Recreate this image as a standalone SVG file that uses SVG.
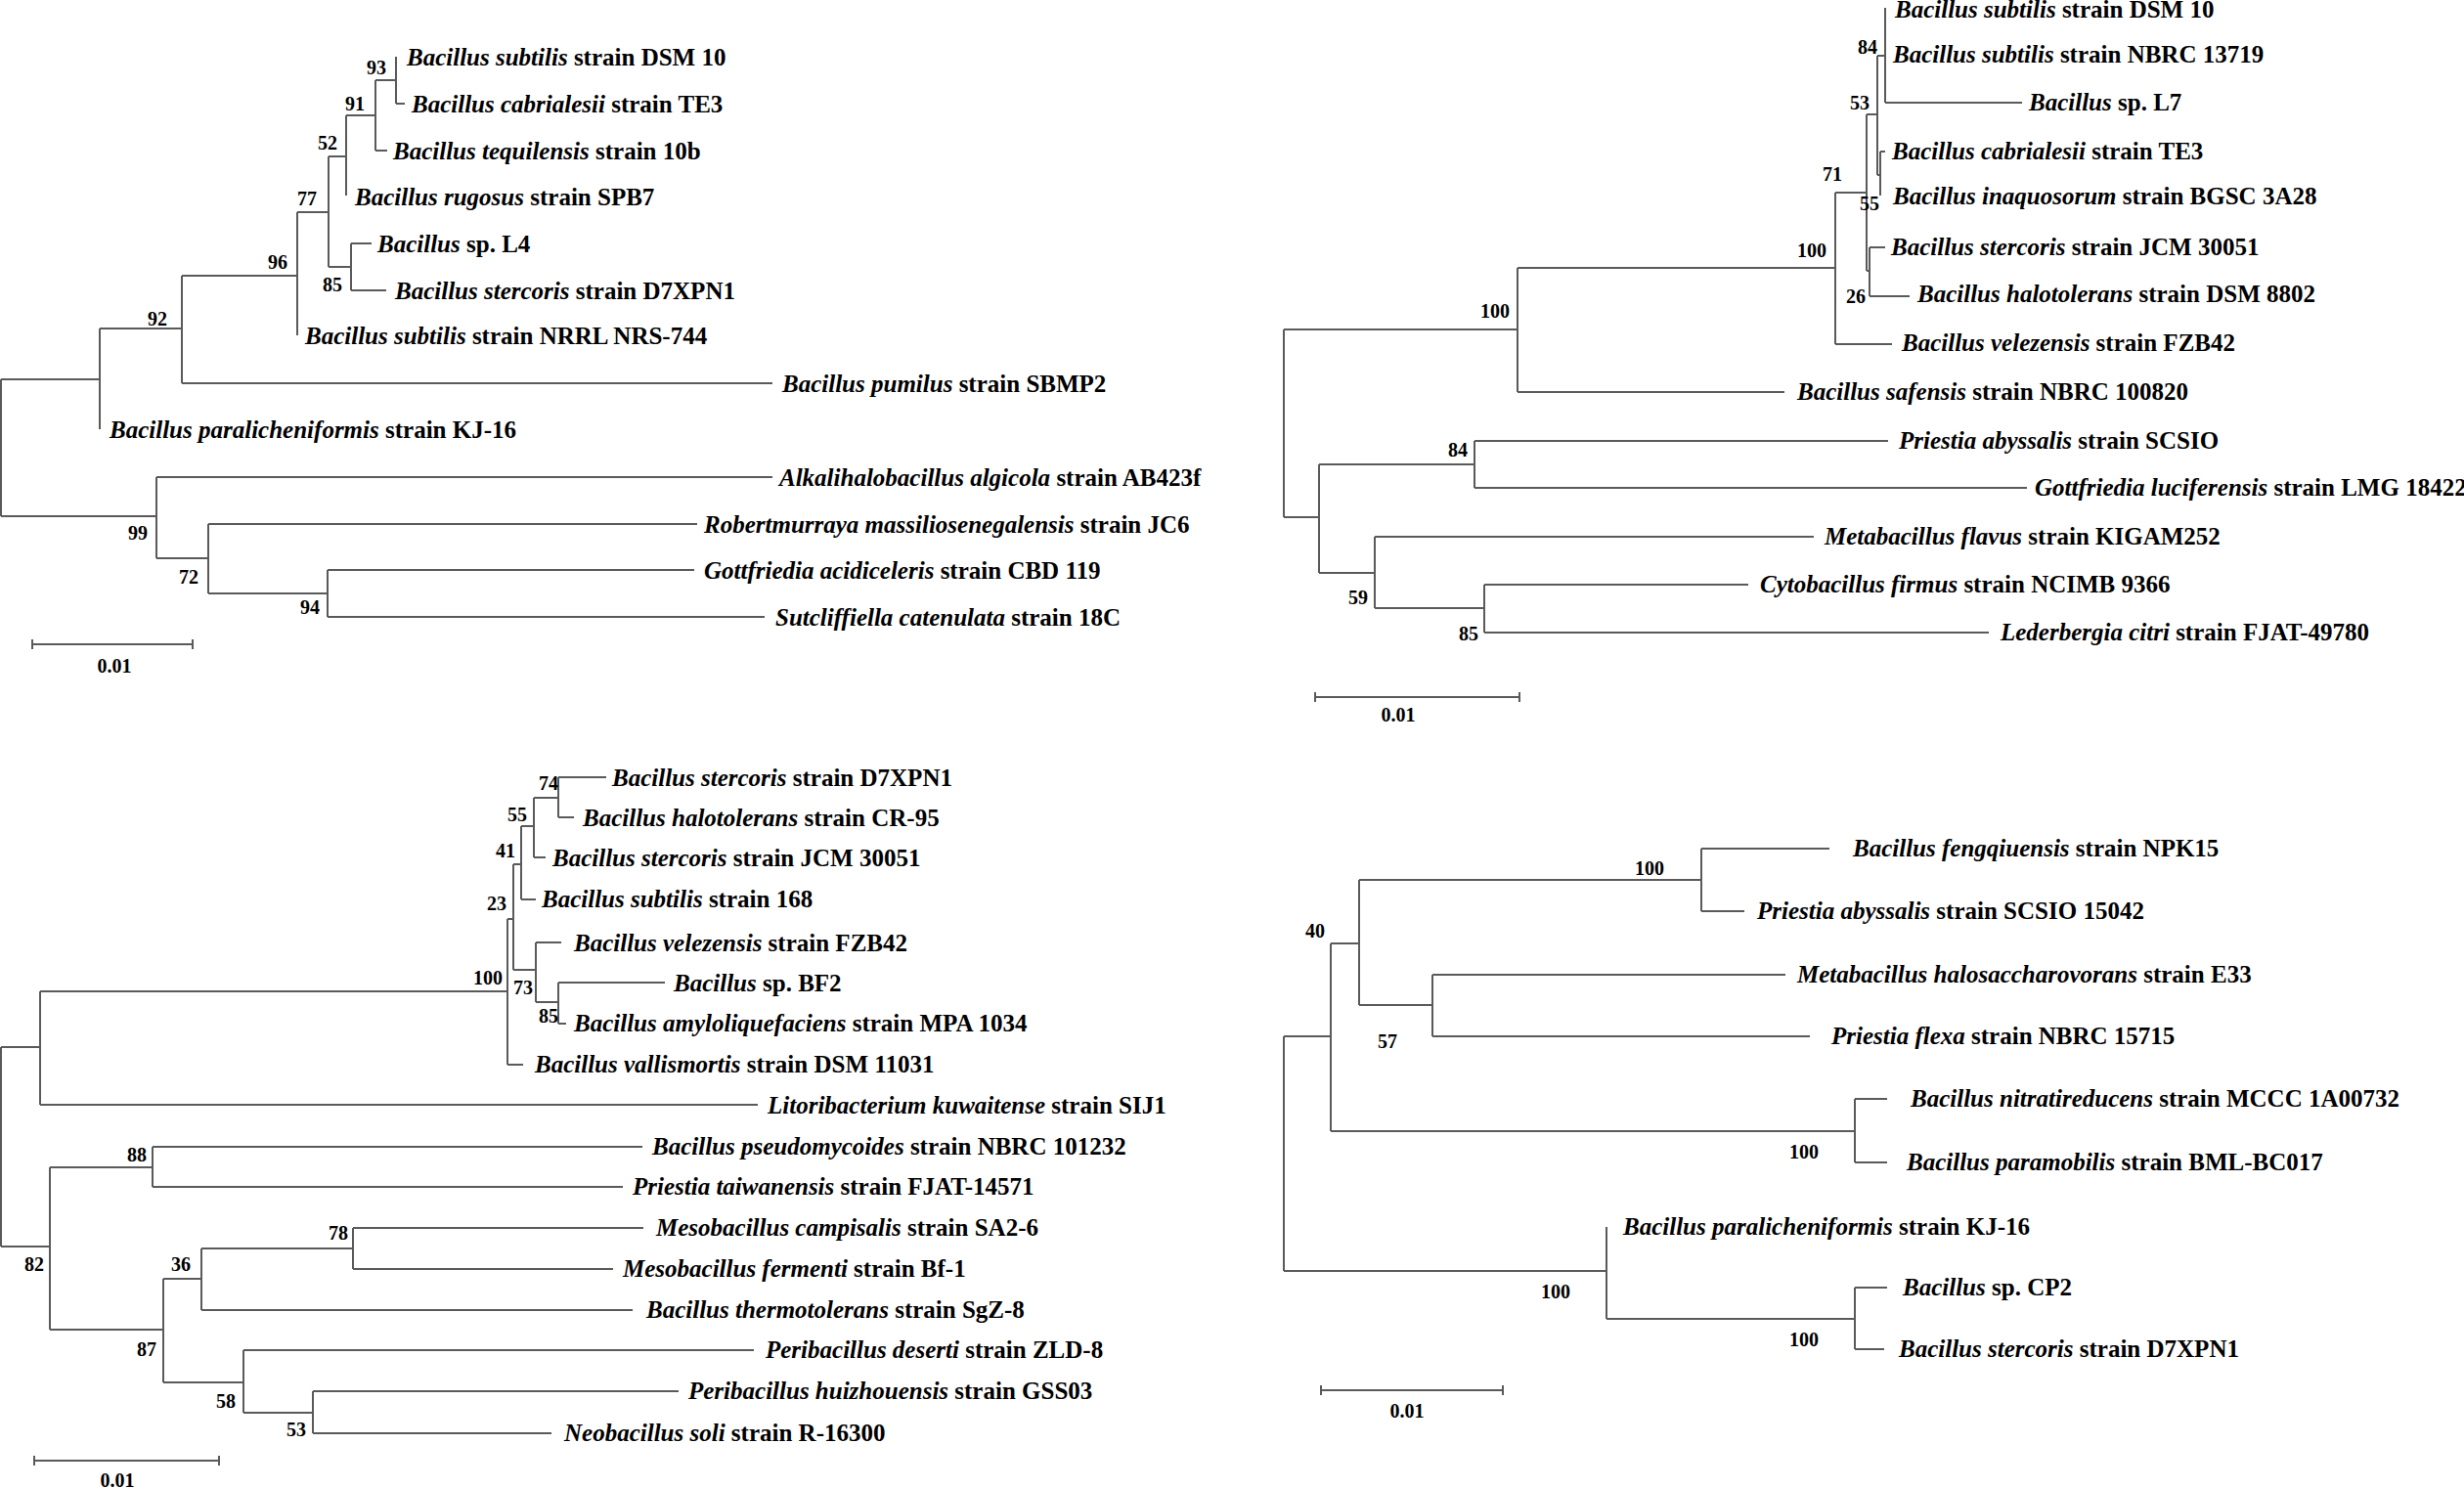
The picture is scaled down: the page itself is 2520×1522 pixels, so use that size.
<svg xmlns="http://www.w3.org/2000/svg" width="2520" height="1522" viewBox="0 0 2520 1522">
<style>
.br{fill:none;stroke:#5a5a5a;stroke-width:2}
.lb{font-family:"Liberation Serif","Times New Roman",serif;font-size:25px;font-weight:bold;fill:#000}
.i{font-style:italic}
.bs{font-family:"Liberation Serif","Times New Roman",serif;font-size:20px;font-weight:bold;fill:#000;text-anchor:end}
.sc{font-family:"Liberation Serif","Times New Roman",serif;font-size:20px;font-weight:bold;fill:#000;text-anchor:middle}
</style>
<rect width="2520" height="1522" fill="#fff"/>

<g id="tree-a">
<g id="tree-a-branches">
<path class="br" d="M1,388 V528 M1,388 H102 M102,336 V439 M102,336 H186 M186,282 V392 M186,392 H790 M186,282 H304 M304,217 V343 M304,217 H336 M336,160 V273 M336,273 H359 M359,249 V297 M359,249 H380 M359,297 H395 M336,160 H354 M354,118 V200 M354,118 H384 M384,82 V154 M384,154 H396 M384,82 H405 M405,58 V106 M405,106 H414 M1,528 H160 M160,488 V571 M160,488 H790 M160,571 H213 M213,536 V607 M213,536 H713 M213,607 H335 M335,583 V631 M335,583 H710 M335,631 H782"/>
<path class="br" d="M33,659 H197 M33,654 V664 M197,654 V664"/>
</g>
<g id="tree-a-leaves">
<text class="lb" x="416" y="67"><tspan class="i">Bacillus subtilis</tspan> strain DSM 10</text>
<text class="lb" x="421" y="115"><tspan class="i">Bacillus cabrialesii</tspan> strain TE3</text>
<text class="lb" x="402" y="163"><tspan class="i">Bacillus tequilensis</tspan> strain 10b</text>
<text class="lb" x="363" y="210"><tspan class="i">Bacillus rugosus</tspan> strain SPB7</text>
<text class="lb" x="386" y="258"><tspan class="i">Bacillus</tspan> sp. L4</text>
<text class="lb" x="404" y="306"><tspan class="i">Bacillus stercoris</tspan> strain D7XPN1</text>
<text class="lb" x="312" y="352"><tspan class="i">Bacillus subtilis</tspan> strain NRRL NRS-744</text>
<text class="lb" x="800" y="401"><tspan class="i">Bacillus pumilus</tspan> strain SBMP2</text>
<text class="lb" x="112" y="448"><tspan class="i">Bacillus paralicheniformis</tspan> strain KJ-16</text>
<text class="lb" x="797" y="497"><tspan class="i">Alkalihalobacillus algicola</tspan> strain AB423f</text>
<text class="lb" x="720" y="545"><tspan class="i">Robertmurraya massiliosenegalensis</tspan> strain JC6</text>
<text class="lb" x="720" y="592"><tspan class="i">Gottfriedia acidiceleris</tspan> strain CBD 119</text>
<text class="lb" x="793" y="640"><tspan class="i">Sutcliffiella catenulata</tspan> strain 18C</text>
</g>
<g id="tree-a-support">
<text class="bs" x="395" y="76">93</text>
<text class="bs" x="373" y="113">91</text>
<text class="bs" x="345" y="153">52</text>
<text class="bs" x="324" y="210">77</text>
<text class="bs" x="294" y="275">96</text>
<text class="bs" x="350" y="298">85</text>
<text class="bs" x="171" y="333">92</text>
<text class="bs" x="151" y="552">99</text>
<text class="bs" x="203" y="597">72</text>
<text class="bs" x="327" y="628">94</text>
<text class="sc" x="117" y="688">0.01</text>
</g>
</g>

<g id="tree-b">
<g id="tree-b-branches">
<path class="br" d="M1313,337 V529 M1313,337 H1552 M1552,274 V401 M1552,401 H1825 M1552,274 H1877 M1877,197 V352 M1877,352 H1935 M1877,197 H1909 M1909,117 V277 M1909,117 H1920 M1920,57 V179 M1920,57 H1928 M1928,8 V105 M1928,105 H2068 M1920,179 H1923 M1923,155 V200 M1923,155 H1928 M1909,277 H1912 M1912,253 V303 M1912,253 H1928 M1912,303 H1953 M1313,529 H1349 M1349,475 V586 M1349,475 H1508 M1508,451 V499 M1508,451 H1931 M1508,499 H2073 M1349,586 H1406 M1406,549 V622 M1406,549 H1855 M1406,622 H1518 M1518,598 V647 M1518,598 H1788 M1518,647 H2034"/>
<path class="br" d="M1345,713 H1554 M1345,708 V718 M1554,708 V718"/>
</g>
<g id="tree-b-leaves">
<text class="lb" x="1938" y="18"><tspan class="i">Bacillus subtilis</tspan> strain DSM 10</text>
<text class="lb" x="1936" y="64"><tspan class="i">Bacillus subtilis</tspan> strain NBRC 13719</text>
<text class="lb" x="2075" y="113"><tspan class="i">Bacillus</tspan> sp. L7</text>
<text class="lb" x="1935" y="163"><tspan class="i">Bacillus cabrialesii</tspan> strain TE3</text>
<text class="lb" x="1936" y="209"><tspan class="i">Bacillus inaquosorum</tspan> strain BGSC 3A28</text>
<text class="lb" x="1934" y="261"><tspan class="i">Bacillus stercoris</tspan> strain JCM 30051</text>
<text class="lb" x="1961" y="309"><tspan class="i">Bacillus halotolerans</tspan> strain DSM 8802</text>
<text class="lb" x="1945" y="359"><tspan class="i">Bacillus velezensis</tspan> strain FZB42</text>
<text class="lb" x="1838" y="409"><tspan class="i">Bacillus safensis</tspan> strain NBRC 100820</text>
<text class="lb" x="1942" y="459"><tspan class="i">Priestia abyssalis</tspan> strain SCSIO</text>
<text class="lb" x="2081" y="507"><tspan class="i">Gottfriedia luciferensis</tspan> strain LMG 18422</text>
<text class="lb" x="1866" y="557"><tspan class="i">Metabacillus flavus</tspan> strain KIGAM252</text>
<text class="lb" x="1800" y="606"><tspan class="i">Cytobacillus firmus</tspan> strain NCIMB 9366</text>
<text class="lb" x="2046" y="655"><tspan class="i">Lederbergia citri</tspan> strain FJAT-49780</text>
</g>
<g id="tree-b-support">
<text class="bs" x="1920" y="55">84</text>
<text class="bs" x="1912" y="112">53</text>
<text class="bs" x="1884" y="185">71</text>
<text class="bs" x="1922" y="215">55</text>
<text class="bs" x="1868" y="263">100</text>
<text class="bs" x="1908" y="310">26</text>
<text class="bs" x="1544" y="325">100</text>
<text class="bs" x="1501" y="467">84</text>
<text class="bs" x="1399" y="618">59</text>
<text class="bs" x="1512" y="655">85</text>
<text class="sc" x="1430" y="738">0.01</text>
</g>
</g>

<g id="tree-c">
<g id="tree-c-branches">
<path class="br" d="M1,1071 V1275 M1,1071 H41 M41,1014 V1130 M41,1130 H775 M41,1014 H519 M519,940 V1089 M519,1089 H535 M519,940 H525 M525,884 V992 M525,884 H533 M533,845 V920 M533,920 H548 M533,845 H546 M546,816 V877 M546,877 H558 M546,816 H571 M571,795 V836 M571,795 H620 M571,836 H587 M525,992 H548 M548,964 V1025 M548,964 H574 M548,1025 H571 M571,1005 V1047 M571,1005 H680 M571,1047 H579 M1,1275 H51 M51,1194 V1360 M51,1194 H156 M156,1173 V1214 M156,1173 H657 M156,1214 H637 M51,1360 H167 M167,1308 V1414 M167,1308 H206 M206,1277 V1340 M206,1277 H361 M361,1256 V1298 M361,1256 H658 M361,1298 H627 M206,1340 H647 M167,1414 H249 M249,1381 V1445 M249,1381 H771 M249,1445 H320 M320,1423 V1466 M320,1423 H694 M320,1466 H564"/>
<path class="br" d="M35,1494 H224 M35,1489 V1499 M224,1489 V1499"/>
</g>
<g id="tree-c-leaves">
<text class="lb" x="626" y="804"><tspan class="i">Bacillus stercoris</tspan> strain D7XPN1</text>
<text class="lb" x="596" y="845"><tspan class="i">Bacillus halotolerans</tspan> strain CR-95</text>
<text class="lb" x="565" y="886"><tspan class="i">Bacillus stercoris</tspan> strain JCM 30051</text>
<text class="lb" x="554" y="928"><tspan class="i">Bacillus subtilis</tspan> strain 168</text>
<text class="lb" x="587" y="973"><tspan class="i">Bacillus velezensis</tspan> strain FZB42</text>
<text class="lb" x="689" y="1014"><tspan class="i">Bacillus</tspan> sp. BF2</text>
<text class="lb" x="587" y="1055"><tspan class="i">Bacillus amyloliquefaciens</tspan> strain MPA 1034</text>
<text class="lb" x="547" y="1097"><tspan class="i">Bacillus vallismortis</tspan> strain DSM 11031</text>
<text class="lb" x="785" y="1139"><tspan class="i">Litoribacterium kuwaitense</tspan> strain SIJ1</text>
<text class="lb" x="667" y="1181"><tspan class="i">Bacillus pseudomycoides</tspan> strain NBRC 101232</text>
<text class="lb" x="647" y="1222"><tspan class="i">Priestia taiwanensis</tspan> strain FJAT-14571</text>
<text class="lb" x="671" y="1264"><tspan class="i">Mesobacillus campisalis</tspan> strain SA2-6</text>
<text class="lb" x="637" y="1306"><tspan class="i">Mesobacillus fermenti</tspan> strain Bf-1</text>
<text class="lb" x="661" y="1348"><tspan class="i">Bacillus thermotolerans</tspan> strain SgZ-8</text>
<text class="lb" x="783" y="1389"><tspan class="i">Peribacillus deserti</tspan> strain ZLD-8</text>
<text class="lb" x="704" y="1431"><tspan class="i">Peribacillus huizhouensis</tspan> strain GSS03</text>
<text class="lb" x="577" y="1474"><tspan class="i">Neobacillus soli</tspan> strain R-16300</text>
</g>
<g id="tree-c-support">
<text class="bs" x="571" y="808">74</text>
<text class="bs" x="539" y="840">55</text>
<text class="bs" x="527" y="877">41</text>
<text class="bs" x="518" y="931">23</text>
<text class="bs" x="514" y="1007">100</text>
<text class="bs" x="545" y="1017">73</text>
<text class="bs" x="571" y="1046">85</text>
<text class="bs" x="150" y="1188">88</text>
<text class="bs" x="45" y="1300">82</text>
<text class="bs" x="356" y="1268">78</text>
<text class="bs" x="195" y="1300">36</text>
<text class="bs" x="160" y="1387">87</text>
<text class="bs" x="241" y="1440">58</text>
<text class="bs" x="313" y="1469">53</text>
<text class="sc" x="120" y="1521">0.01</text>
</g>
</g>

<g id="tree-d">
<g id="tree-d-branches">
<path class="br" d="M1313,1060 V1300 M1313,1060 H1361 M1361,965 V1157 M1361,965 H1390 M1390,900 V1028 M1390,900 H1740 M1740,868 V932 M1740,868 H1871 M1740,932 H1784 M1390,1028 H1465 M1465,997 V1060 M1465,997 H1826 M1465,1060 H1851 M1361,1157 H1897 M1897,1124 V1189 M1897,1124 H1930 M1897,1189 H1930 M1313,1300 H1643 M1643,1255 V1349 M1643,1349 H1897 M1897,1317 V1380 M1897,1317 H1930 M1897,1380 H1927"/>
<path class="br" d="M1351,1422 H1537 M1351,1417 V1427 M1537,1417 V1427"/>
</g>
<g id="tree-d-leaves">
<text class="lb" x="1895" y="876"><tspan class="i">Bacillus fengqiuensis</tspan> strain NPK15</text>
<text class="lb" x="1797" y="940"><tspan class="i">Priestia abyssalis</tspan> strain SCSIO 15042</text>
<text class="lb" x="1838" y="1005"><tspan class="i">Metabacillus halosaccharovorans</tspan> strain E33</text>
<text class="lb" x="1873" y="1068"><tspan class="i">Priestia flexa</tspan> strain NBRC 15715</text>
<text class="lb" x="1954" y="1132"><tspan class="i">Bacillus nitratireducens</tspan> strain MCCC 1A00732</text>
<text class="lb" x="1950" y="1197"><tspan class="i">Bacillus paramobilis</tspan> strain BML-BC017</text>
<text class="lb" x="1660" y="1263"><tspan class="i">Bacillus paralicheniformis</tspan> strain KJ-16</text>
<text class="lb" x="1946" y="1325"><tspan class="i">Bacillus</tspan> sp. CP2</text>
<text class="lb" x="1942" y="1388"><tspan class="i">Bacillus stercoris</tspan> strain D7XPN1</text>
</g>
<g id="tree-d-support">
<text class="bs" x="1355" y="959">40</text>
<text class="bs" x="1702" y="895">100</text>
<text class="bs" x="1429" y="1072">57</text>
<text class="bs" x="1860" y="1185">100</text>
<text class="bs" x="1606" y="1328">100</text>
<text class="bs" x="1860" y="1377">100</text>
<text class="sc" x="1439" y="1450">0.01</text>
</g>
</g>
</svg>
